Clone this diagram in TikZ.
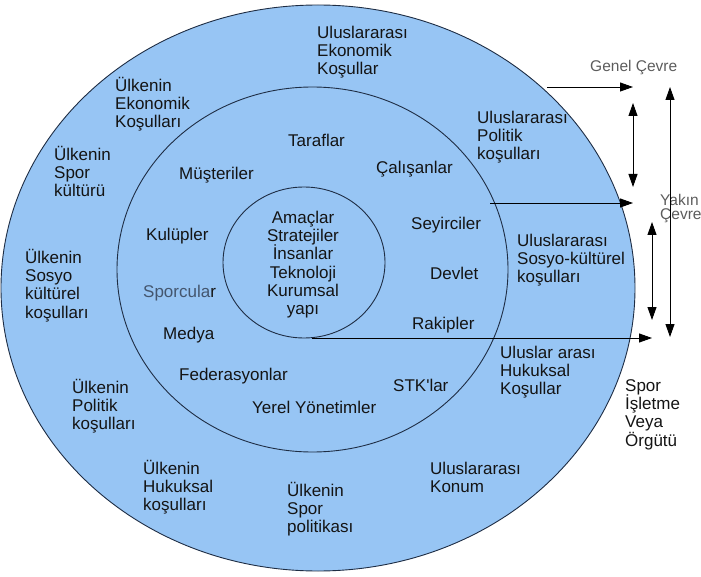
\documentclass[tikz,border=0pt]{standalone}
\usepackage{fontspec}
\setmainfont{Liberation Sans}
\usetikzlibrary{shapes.geometric,arrows.meta}
\definecolor{ringfill}{HTML}{97C5F4}
\definecolor{ringline}{HTML}{1E2D44}
\definecolor{softgray}{HTML}{5C5C5C}
\definecolor{athlete}{HTML}{44566E}
\newcommand{\lblfont}{\fontsize{17}{18.3}\selectfont}
\newcommand{\sidefont}{\fontsize{15.5}{14.5}\selectfont}
\newcommand{\topstrut}{\rule{0pt}{15pt}}
\begin{document}
\begin{tikzpicture}[x=1pt,y=-1pt,
  ring/.style={ellipse, draw=ringline, line width=0.9pt, fill=ringfill, inner sep=0pt, outer sep=0pt},
  lbl/.style={anchor=north west, inner sep=0pt, align=left, font=\lblfont, text=black!92},
  side/.style={inner sep=0pt, align=left, font=\sidefont, text=softgray},
  tip/.style={-{Triangle[length=13pt,width=9pt]}, line width=0.9pt},
  both/.style={{Triangle[length=13pt,width=9pt]}-{Triangle[length=13pt,width=9pt]}, line width=0.9pt},
]
\useasboundingbox (0,0) rectangle (701,577);

% the three environment rings
\node[ring, minimum width=634pt, minimum height=566pt] (outer) at (318,288) {};
\node[ring, minimum width=391pt, minimum height=365pt] (middle) at (312.5,269.5) {};
\node[ring, minimum width=162pt, minimum height=151pt] (inner) at (304,262.5) {};

% core of the organisation
\node[lbl, anchor=north, align=center] (core) at (303,208)
  {\topstrut Amaçlar\\Stratejiler\\İnsanlar\\Teknoloji\\Kurumsal\\yapı};

% near environment (middle ring)
\node[lbl] (taraf) at (288,131) {\topstrut Taraflar};
\node[lbl] (muster) at (179,164) {\topstrut Müşteriler};
\node[lbl] (kulup) at (146,225) {\topstrut Kulüpler};
\node[lbl] (sporcu) at (143,282) {\topstrut\textcolor{athlete}{Sporcula}r};
\node[lbl] (calis) at (376,158) {\topstrut Çalışanlar};
\node[lbl] (seyirci) at (411,214) {\topstrut Seyirciler};
\node[lbl] (devlet) at (430,264) {\topstrut Devlet};
\node[lbl] (rakip) at (412,314) {\topstrut Rakipler};
\node[lbl] (medya) at (163,324) {\topstrut Medya};
\node[lbl] (feder) at (179,365) {\topstrut Federasyonlar};
\node[lbl] (yerel) at (252,398) {\topstrut Yerel Yönetimler};
\node[lbl] (stk) at (393,376) {\topstrut STK\textquotesingle lar};

% general environment (outer ring)
\node[lbl] (uek) at (317,23) {\topstrut Uluslararası\\Ekonomik\\Koşullar};
\node[lbl] (iek) at (115,76) {\topstrut Ülkenin\\Ekonomik\\Koşulları};
\node[lbl] (isk) at (54,145) {\topstrut Ülkenin\\Spor\\kültürü};
\node[lbl] (iso) at (25,248) {\topstrut Ülkenin\\Sosyo\\kültürel\\koşulları};
\node[lbl] (ipo) at (72,378) {\topstrut Ülkenin\\Politik\\koşulları};
\node[lbl] (ihu) at (143,459) {\topstrut Ülkenin\\Hukuksal\\koşulları};
\node[lbl] (ispo) at (287,481) {\topstrut Ülkenin\\Spor\\politikası};
\node[lbl] (uko) at (430,459) {\topstrut Uluslararası\\Konum};
\node[lbl] (uhu) at (500,343) {\topstrut Uluslar arası\\Hukuksal\\Koşullar};
\node[lbl] (uso) at (517,231) {\topstrut Uluslararası\\Sosyo-kültürel\\koşulları};
\node[lbl] (upo) at (477,108) {\topstrut Uluslararası\\Politik\\koşulları};

% the organisation itself and the side captions
\node[lbl] (org) at (625,376) {\topstrut Spor\\İşletme\\Veya\\Örgütü};
\node[side, anchor=base west] (genel) at (590,72) {Genel Çevre};
\node[side, anchor=north west] (yakin) at (660,192) {\rule{0pt}{13pt}Yakın\\Çevre};

% connector end points
\coordinate (g1) at (547,87);
\coordinate (g2) at (633,87);
\coordinate (y1) at (490,203);
\coordinate (y2) at (633,203);
\coordinate (k1) at (312,338);
\coordinate (k2) at (652,338);
\coordinate (a1) at (633,103);
\coordinate (a2) at (633,187);
\coordinate (b1) at (652,222);
\coordinate (b2) at (652,320);
\coordinate (c1) at (670,87);
\coordinate (c2) at (670,337);

% boundary markers and range arrows
\draw[tip] (g1) -- (g2);
\draw[tip] (y1) -- (y2);
\draw[tip] (k1) -- (k2);
\draw[both] (a1) -- (a2);
\draw[both] (b1) -- (b2);
\draw[both] (c1) -- (c2);
\end{tikzpicture}
\end{document}
